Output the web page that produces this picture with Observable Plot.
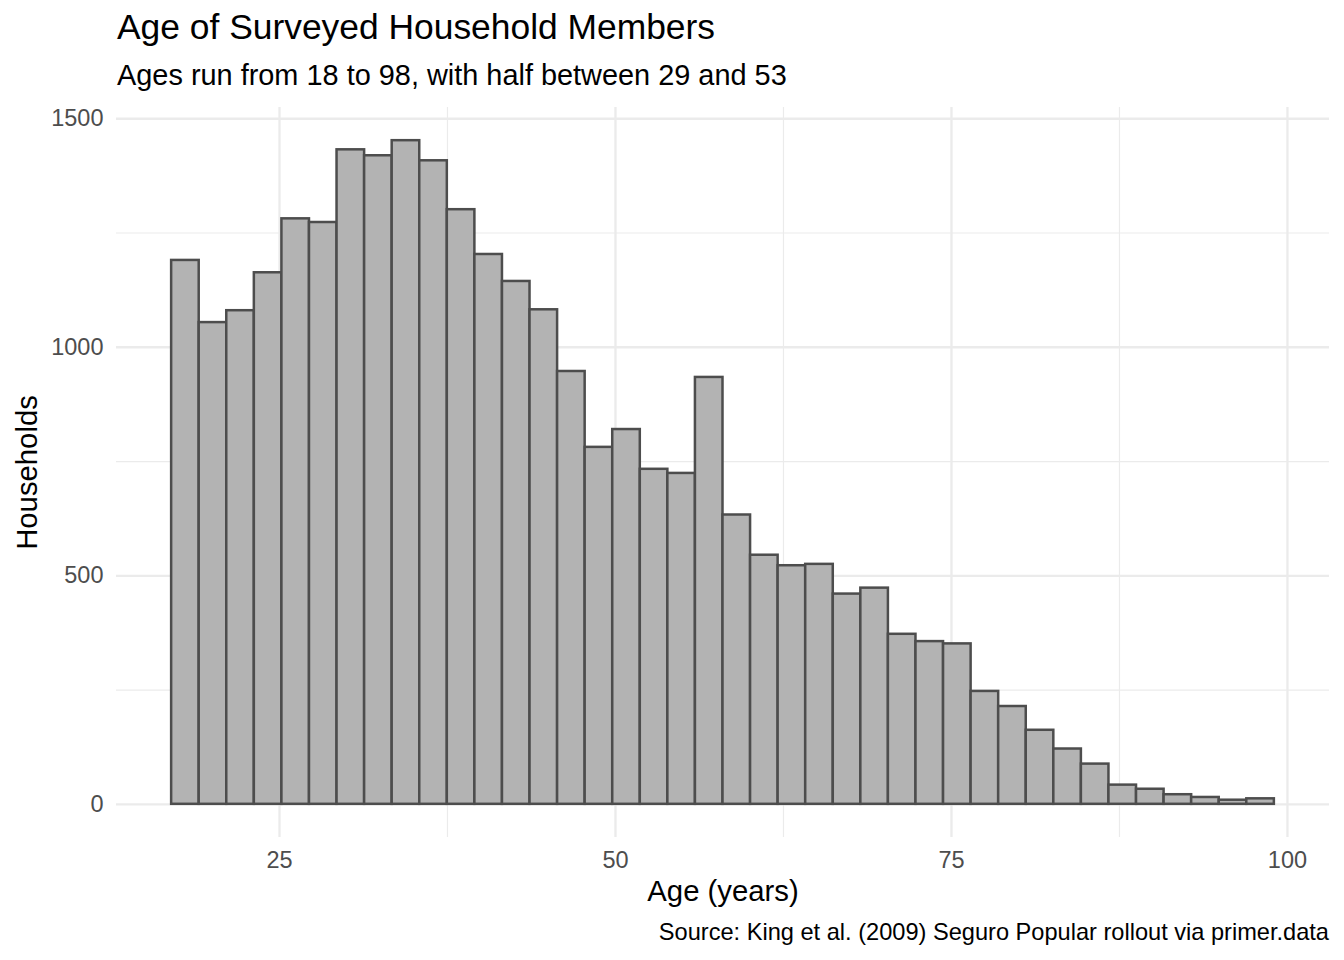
<!DOCTYPE html>
<html>
<head>
<meta charset="utf-8">
<script src="https://cdn.jsdelivr.net/npm/d3@7"></script>
<script src="https://cdn.jsdelivr.net/npm/@observablehq/plot@0.6"></script>
<style>
  body { margin: 0; background: #fff; }
  #wrap { position: relative; width: 1344px; height: 960px; font-family: "Liberation Sans", Arial, Helvetica, sans-serif; }
  .t { position: absolute; white-space: nowrap; line-height: 1; }
</style>
</head>
<body>
<div id="wrap">
  <div class="t" id="title" style="left:117px;top:10px;font-size:35.4px;color:#000;"></div>
  <div class="t" id="subtitle" style="left:117px;top:60.5px;font-size:28.9px;color:#000;"></div>
  <div class="t" id="caption" style="right:15px;top:920.5px;font-size:23.6px;color:#000;"></div>
</div>
<script>
// ---- data ----
const titleText = "Age of Surveyed Household Members";
const subtitleText = "Ages run from 18 to 98, with half between 29 and 53";
const captionText = "Source: King et al. (2009) Seguro Popular rollout via primer.data";
const xLabel = "Age (years)";
const yLabel = "Households";

const ageMin = 18;
const ageMax = 98;
const counts = [1190, 1054, 1080, 1163, 1281, 1273, 1432, 1419, 1452, 1408,
                1301, 1203, 1144, 1082, 947, 781, 820, 733, 724, 934,
                633, 545, 522, 525, 460, 473, 372, 356, 351, 247,
                214, 162, 121, 88, 42, 33, 21, 15, 9, 12];
const xTicks = [25, 50, 75, 100];
const xMinorTicks = [37.5, 62.5, 87.5];
const yTicks = [0, 500, 1000, 1500];
const yMinorTicks = [250, 750, 1250];

// ---- bins (ggplot bins = n, centered on min..max) ----
const nBins = counts.length;
const binWidth = (ageMax - ageMin) / (nBins - 1);
const bins = counts.map((c, i) => ({
  x1: ageMin + (i - 0.5) * binWidth,
  x2: ageMin + (i + 0.5) * binWidth,
  count: c
}));
const lo = ageMin - binWidth / 2, hi = ageMax + binWidth / 2;
const xPad = 0.05 * (hi - lo);
const yMax = d3.max(counts);
const yPad = 0.05 * yMax;

document.getElementById("title").textContent = titleText;
document.getElementById("subtitle").textContent = subtitleText;
document.getElementById("caption").textContent = captionText;

const font = '"Liberation Sans", Arial, Helvetica, sans-serif';
const plot = Plot.plot({
  width: 1344,
  height: 820,
  marginLeft: 116,
  marginRight: 15,
  marginTop: 12,
  marginBottom: 78,
  x: { domain: [lo - xPad, hi + xPad] },
  y: { domain: [-yPad, yMax + yPad] },
  style: { fontFamily: font, background: "transparent", overflow: "visible" },
  marks: [
    Plot.gridX(xMinorTicks, { stroke: "#EBEBEB", strokeOpacity: 1, strokeWidth: 1.2 }),
    Plot.gridY(yMinorTicks, { stroke: "#EBEBEB", strokeOpacity: 1, strokeWidth: 1.2 }),
    Plot.gridX(xTicks, { stroke: "#EBEBEB", strokeOpacity: 1, strokeWidth: 2.3 }),
    Plot.gridY(yTicks, { stroke: "#EBEBEB", strokeOpacity: 1, strokeWidth: 2.3 }),
    Plot.rectY(bins, { x1: "x1", x2: "x2", y1: 0, y2: "count", fill: "#B3B3B3", stroke: "#4D4D4D", strokeWidth: 2.5 }),
    Plot.axisX(xTicks, { tickSize: 0, tickPadding: 14, fontSize: 23.5, fill: "#4D4D4D", label: null }),
    Plot.axisY(yTicks, { tickSize: 0, tickPadding: 13, fontSize: 23.5, fill: "#4D4D4D", label: null, tickFormat: d => String(d) }),
    Plot.text([xLabel], { frameAnchor: "bottom", lineAnchor: "middle", textAnchor: "middle", dy: 54.5, fontSize: 29.3, fill: "#000" }),
    Plot.text([yLabel], { frameAnchor: "left", lineAnchor: "middle", textAnchor: "middle", dx: -88.5, rotate: -90, fontSize: 29.3, fill: "#000" })
  ]
});
plot.style.position = "absolute";
plot.style.left = "0px";
plot.style.top = "95px";
document.getElementById("wrap").appendChild(plot);
</script>
</body>
</html>
